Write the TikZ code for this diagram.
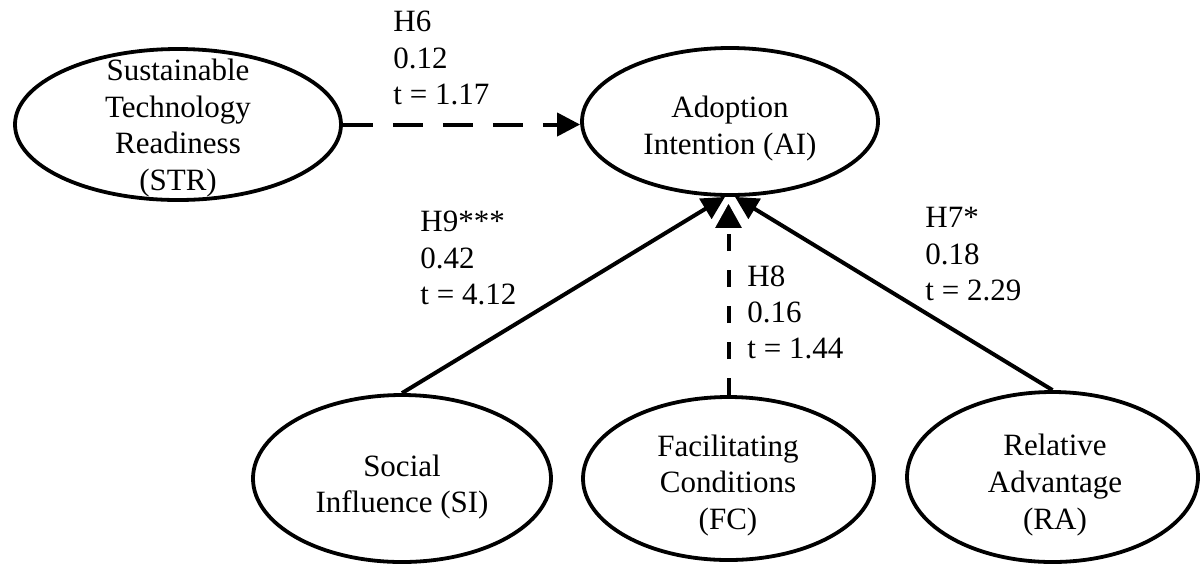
\documentclass[tikz,border=0pt]{standalone}
\usepackage{fontspec}
\setmainfont{Liberation Serif}
\usetikzlibrary{shapes.geometric,arrows.meta,calc}

\begin{document}
\begin{tikzpicture}[x=0.5pt,y=-0.5pt,
  construct/.style={draw, ellipse, line width=1.9pt, inner sep=0pt},
  cname/.style={align=center, inner sep=0pt, font=\fontsize{15.5pt}{18.4pt}\selectfont},
  coef/.style={align=left, anchor=north west, inner sep=0pt, font=\fontsize{15.5pt}{18.2pt}\selectfont},
  sigpath/.style={line width=2pt, -{Triangle[length=11.5pt,width=11.5pt]}},
  nshoriz/.style={line width=2pt, dash pattern=on 15pt off 10pt, -{Triangle[length=11.5pt,width=11.5pt]}},
  nsvert/.style={line width=2pt, dash pattern=on 8.5pt off 9.5pt,
    -{Triangle[length=15pt,width=16.5pt,color=white,fill=black,line width=0.9pt]}}]

\useasboundingbox (0,0) rectangle (1203,569);

% latent constructs
\node[construct, minimum width=163pt, minimum height=75.5pt] (str) at (178,124.5) {};
\node[construct, minimum width=148pt, minimum height=73.5pt] (ai) at (730,121.5) {};
\node[construct, minimum width=149pt, minimum height=83.5pt] (si) at (402,478.5) {};
\node[construct, minimum width=145.5pt, minimum height=81.5pt] (fc) at (728.5,478.5) {};
\node[construct, minimum width=145.5pt, minimum height=85pt] (ra) at (1052.5,477) {};

% construct names
\node[cname] (strtext) at (178,128) {Sustainable\\Technology\\Readiness\\(STR)};
\node[cname] (aitext) at (730,128.5) {Adoption\\Intention (AI)};
\node[cname] (sitext) at (402,487) {Social\\Influence (SI)};
\node[cname] (fctext) at (728,485.5) {Facilitating\\Conditions\\(FC)};
\node[cname] (ratext) at (1055,485) {Relative\\Advantage\\(RA)};

% structural paths
\draw[nshoriz] (str.east) -- (str.east -| ai.west);
\draw[sigpath] (si.north) -- ([xshift=-2.5pt]ai.south);
\draw[sigpath] (ra.north) -- ([xshift=2.5pt]ai.south);
\draw[nsvert] (fc.north) -- ($(fc.north |- ai.south)+(0,3)$);

% path coefficients
\node[coef] (h6) at (393,11) {H6\\0.12\\t = 1.17};
\node[coef] (h9) at (420,211) {H9***\\0.42\\t = 4.12};
\node[coef] (h8) at (747,265) {H8\\0.16\\t = 1.44};
\node[coef] (h7) at (925,207) {H7*\\0.18\\t = 2.29};
\end{tikzpicture}
\end{document}
